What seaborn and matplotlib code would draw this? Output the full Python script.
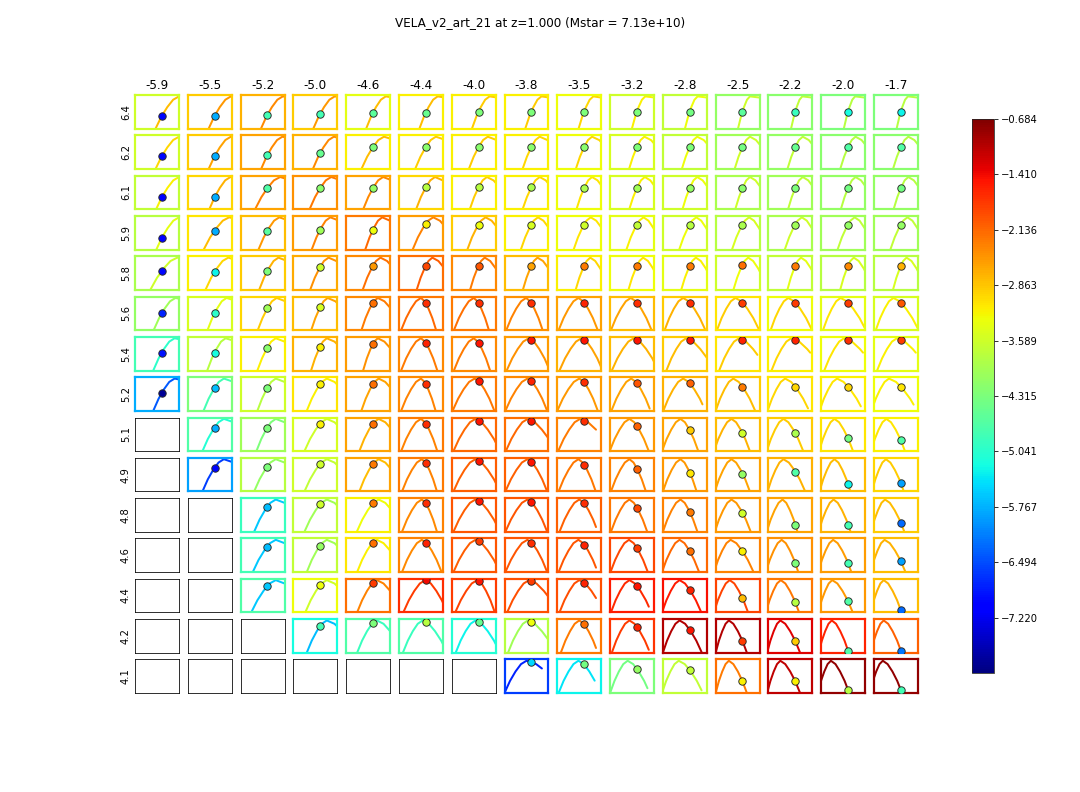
import numpy as np
import matplotlib
matplotlib.use("Agg")
import matplotlib.pyplot as plt
from matplotlib import colors, ticker
import seaborn as sns

nan = np.nan

# grid labels
col_labels = ['-5.9', '-5.5', '-5.2', '-5.0', '-4.6', '-4.4', '-4.0', '-3.8',
              '-3.5', '-3.2', '-2.8', '-2.5', '-2.2', '-2.0', '-1.7']
row_labels = ['6.4', '6.2', '6.1', '5.9', '5.8', '5.6', '5.4', '5.2',
              '5.1', '4.9', '4.8', '4.6', '4.4', '4.2', '4.1']

# colour scale
vmin, vmax = -7.946, -0.684
cbar_ticks = [-0.684, -1.410, -2.136, -2.863, -3.589, -4.315, -5.041,
              -5.767, -6.494, -7.220]

# frame colour value of every panel (nan = empty panel)
spine_val = [
    [-3.6, -2.9, -2.7, -2.9, -3.4, -3.2, -3.2, -3.2, -3.3, -3.6, -3.7, -4.1, -4.2, -4.3, -4.3],
    [-3.6, -2.9, -2.6, -2.7, -3.2, -3.2, -3.2, -3.2, -3.3, -3.5, -3.7, -4.0, -4.1, -4.2, -4.2],
    [-3.7, -3.0, -2.6, -2.45, -2.6, -3.0, -3.2, -3.2, -3.3, -3.5, -3.6, -3.9, -4.0, -4.1, -4.1],
    [-3.8, -3.1, -2.8, -2.55, -2.3, -2.55, -2.9, -3.2, -3.3, -3.4, -3.6, -3.8, -3.9, -4.0, -4.0],
    [-3.9, -3.2, -2.9, -2.65, -2.4, -2.2, -2.4, -2.8, -3.2, -3.3, -3.4, -3.6, -3.7, -3.8, -3.8],
    [-4.1, -3.5, -3.0, -2.8, -2.4, -2.25, -2.3, -2.45, -2.6, -2.8, -2.9, -3.1, -3.3, -3.4, -3.5],
    [-4.8, -3.7, -3.2, -2.7, -2.55, -2.4, -2.4, -2.55, -2.7, -2.8, -2.9, -3.1, -3.2, -3.3, -3.4],
    [-5.8, -4.3, -3.6, -3.1, -2.6, -2.4, -2.3, -2.4, -2.55, -2.6, -2.7, -2.9, -3.1, -3.2, -3.3],
    [nan, -4.7, -4.0, -3.5, -2.6, -2.3, -2.15, -2.2, -2.35, -2.5, -2.6, -2.8, -2.9, -3.1, -3.2],
    [nan, -5.9, -3.8, -3.6, -2.6, -2.3, -2.05, -2.1, -2.25, -2.35, -2.5, -2.6, -2.7, -2.8, -3.0],
    [nan, nan, -4.9, -3.7, -3.2, -2.35, -2.0, -2.0, -2.1, -2.25, -2.35, -2.5, -2.6, -2.7, -2.9],
    [nan, nan, -4.8, -3.7, -3.1, -2.35, -2.0, -2.0, -2.0, -1.9, -2.15, -2.35, -2.45, -2.55, -2.8],
    [nan, nan, -4.7, -3.3, -2.2, -1.7, -1.8, -1.95, -1.95, -1.55, -1.45, -1.85, -2.25, -2.5, -2.8],
    [nan, nan, nan, -5.2, -4.7, -4.7, -5.1, -3.8, -2.25, -1.75, -1.0, -1.0, -1.3, -1.6, -2.1],
    [nan, nan, nan, nan, nan, nan, nan, -6.6, -5.3, -4.3, -3.7, -2.2, -1.1, -0.8, -0.8],
]

# curve colour value
line_val = [
    [-2.8, -2.5, -2.4, -2.5, -2.8, -2.8, -2.9, -2.9, -3.0, -3.2, -3.3, -3.6, -3.7, -3.8, -3.8],
    [-3.0, -2.6, -2.4, -2.4, -2.8, -2.9, -2.9, -3.0, -3.0, -3.2, -3.3, -3.6, -3.7, -3.8, -3.8],
    [-3.2, -2.7, -2.35, -2.25, -2.4, -2.7, -2.9, -3.0, -3.1, -3.2, -3.3, -3.6, -3.7, -3.8, -3.8],
    [-3.4, -2.8, -2.5, -2.35, -2.15, -2.35, -2.7, -3.0, -3.1, -3.2, -3.3, -3.5, -3.6, -3.7, -3.7],
    [-3.6, -3.0, -2.7, -2.45, -2.2, -2.05, -2.3, -2.6, -3.0, -3.1, -3.2, -3.3, -3.4, -3.5, -3.5],
    [-4.0, -3.4, -2.9, -2.6, -2.3, -2.15, -2.2, -2.35, -2.5, -2.6, -2.7, -2.9, -3.0, -3.1, -3.2],
    [-5.0, -3.8, -3.2, -2.7, -2.45, -2.3, -2.3, -2.45, -2.6, -2.7, -2.8, -2.9, -3.0, -3.1, -3.2],
    [-6.4, -4.8, -3.8, -3.2, -2.6, -2.35, -2.25, -2.35, -2.5, -2.6, -2.7, -2.8, -3.0, -3.1, -3.2],
    [nan, -5.1, -4.3, -3.6, -2.7, -2.35, -2.15, -2.15, -2.3, -2.5, -2.6, -2.7, -2.9, -3.0, -3.1],
    [nan, -6.6, -4.1, -3.7, -2.8, -2.35, -2.1, -2.1, -2.25, -2.35, -2.5, -2.6, -2.7, -2.8, -2.9],
    [nan, nan, -5.6, -4.0, -3.3, -2.4, -2.05, -2.0, -2.1, -2.25, -2.35, -2.5, -2.6, -2.7, -2.8],
    [nan, nan, -5.6, -4.0, -3.2, -2.4, -2.05, -2.0, -2.0, -1.9, -2.15, -2.35, -2.45, -2.55, -2.7],
    [nan, nan, -5.6, -3.6, -2.35, -1.8, -1.85, -1.95, -1.95, -1.65, -1.55, -1.85, -2.25, -2.5, -2.7],
    [nan, nan, nan, -5.7, -4.9, -4.9, -5.3, -4.0, -2.3, -1.8, -1.0, -1.0, -1.3, -1.6, -2.1],
    [nan, nan, nan, nan, nan, nan, nan, -6.8, -5.4, -4.4, -3.7, -2.3, -1.1, -0.8, -0.8],
]

# marker colour value
point_val = [
    [-7.0, -5.8, -4.8, -4.8, -4.6, -4.5, -4.3, -4.3, -4.3, -4.3, -4.4, -4.6, -4.9, -5.2, -5.3],
    [-7.0, -5.8, -4.8, -4.5, -4.3, -4.2, -4.2, -4.2, -4.2, -4.3, -4.3, -4.4, -4.5, -4.7, -4.7],
    [-7.1, -5.8, -4.7, -4.2, -4.1, -3.8, -3.8, -3.9, -3.9, -4.0, -4.1, -4.2, -4.3, -4.4, -4.4],
    [-7.1, -5.8, -4.6, -4.0, -3.3, -3.2, -3.3, -3.5, -3.6, -3.7, -3.8, -3.9, -4.0, -4.1, -4.1],
    [-7.0, -5.3, -4.3, -3.6, -2.5, -1.9, -2.0, -2.6, -2.3, -2.3, -2.3, -2.2, -2.3, -2.4, -2.7],
    [-6.8, -5.0, -4.0, -3.5, -2.2, -1.7, -1.7, -1.7, -1.6, -1.7, -1.7, -1.8, -1.8, -1.8, -2.0],
    [-6.9, -5.2, -4.2, -3.2, -2.2, -1.6, -1.5, -1.5, -1.5, -1.5, -1.5, -1.6, -1.6, -1.7, -1.8],
    [-7.8, -5.7, -4.3, -3.2, -2.2, -1.7, -1.5, -1.6, -1.7, -2.0, -2.1, -2.3, -3.0, -3.0, -3.1],
    [nan, -5.8, -4.3, -3.2, -2.2, -1.7, -1.5, -1.5, -1.7, -2.1, -2.9, -3.6, -3.9, -4.4, -4.7],
    [nan, -7.0, -4.3, -3.6, -2.3, -1.7, -1.5, -1.5, -1.7, -2.1, -3.1, -4.1, -4.7, -5.3, -5.9],
    [nan, nan, -5.7, -3.6, -2.3, -1.7, -1.5, -1.5, -1.7, -1.9, -2.3, -3.6, -4.3, -4.8, -6.3],
    [nan, nan, -5.7, -4.1, -2.2, -1.6, -1.8, -1.7, -1.6, -1.8, -2.2, -3.2, -4.3, -4.8, -5.9],
    [nan, nan, -5.6, -3.3, -1.8, -1.4, -1.5, -1.8, -1.6, -1.5, -1.6, -2.8, -3.8, -4.7, -6.3],
    [nan, nan, nan, -4.8, -4.3, -3.8, -4.5, -3.3, -2.2, -1.6, -1.5, -1.8, -2.9, -4.7, -6.2],
    [nan, nan, nan, nan, nan, nan, nan, -5.5, -4.4, -4.1, -3.7, -3.2, -3.2, -3.8, -4.8],
]

# marker height inside its panel (0 = bottom, 1 = top); marker sits at x = 0.61
point_x = 0.61
point_y = [
    [0.38, 0.38, 0.41, 0.44, 0.47, 0.47, 0.50, 0.50, 0.50, 0.50, 0.50, 0.50, 0.50, 0.50, 0.50],
    [0.38, 0.38, 0.41, 0.47, 0.65, 0.65, 0.65, 0.65, 0.65, 0.65, 0.65, 0.65, 0.65, 0.65, 0.65],
    [0.36, 0.36, 0.63, 0.63, 0.63, 0.65, 0.65, 0.65, 0.63, 0.63, 0.63, 0.63, 0.63, 0.63, 0.63],
    [0.35, 0.56, 0.56, 0.59, 0.59, 0.76, 0.74, 0.74, 0.74, 0.74, 0.74, 0.74, 0.74, 0.74, 0.74],
    [0.56, 0.53, 0.56, 0.68, 0.71, 0.71, 0.71, 0.71, 0.71, 0.71, 0.71, 0.74, 0.71, 0.71, 0.71],
    [0.50, 0.50, 0.65, 0.68, 0.82, 0.80, 0.80, 0.80, 0.82, 0.82, 0.82, 0.82, 0.82, 0.82, 0.82],
    [0.53, 0.53, 0.68, 0.71, 0.79, 0.82, 0.82, 0.91, 0.91, 0.91, 0.91, 0.91, 0.91, 0.91, 0.91],
    [0.53, 0.68, 0.68, 0.79, 0.79, 0.79, 0.88, 0.88, 0.85, 0.82, 0.82, 0.71, 0.71, 0.71, 0.71],
    [nan, 0.70, 0.70, 0.82, 0.82, 0.82, 0.91, 0.91, 0.91, 0.74, 0.62, 0.53, 0.53, 0.38, 0.32],
    [nan, 0.70, 0.74, 0.82, 0.82, 0.85, 0.91, 0.88, 0.79, 0.68, 0.56, 0.53, 0.59, 0.21, 0.24],
    [nan, nan, 0.74, 0.82, 0.85, 0.85, 0.91, 0.88, 0.85, 0.71, 0.59, 0.56, 0.21, 0.21, 0.26],
    [nan, nan, 0.76, 0.79, 0.88, 0.88, 0.91, 0.88, 0.82, 0.71, 0.62, 0.62, 0.26, 0.26, 0.32],
    [nan, nan, 0.78, 0.81, 0.88, 0.94, 0.94, 0.94, 0.88, 0.78, 0.67, 0.42, 0.30, 0.33, 0.06],
    [nan, nan, nan, 0.79, 0.88, 0.91, 0.91, 0.91, 0.85, 0.76, 0.68, 0.35, 0.35, 0.06, 0.06],
    [nan, nan, nan, nan, nan, nan, nan, 0.91, 0.85, 0.71, 0.68, 0.35, 0.35, 0.09, 0.09],
]

# where each curve peaks (panel x)
peak_x = [
    [1.00, 0.98, 0.96, 0.94, 0.90, 0.88, 0.86, 0.84, 0.82, 0.80, 0.79, 0.78, 0.77, 0.77, 0.77],
    [1.00, 0.98, 0.95, 0.92, 0.86, 0.84, 0.82, 0.80, 0.79, 0.78, 0.78, 0.78, 0.78, 0.78, 0.78],
    [1.00, 0.97, 0.90, 0.86, 0.84, 0.82, 0.80, 0.80, 0.79, 0.79, 0.78, 0.78, 0.78, 0.78, 0.78],
    [1.00, 0.94, 0.88, 0.84, 0.82, 0.78, 0.77, 0.76, 0.76, 0.76, 0.76, 0.76, 0.76, 0.76, 0.76],
    [0.96, 0.92, 0.86, 0.80, 0.78, 0.76, 0.75, 0.75, 0.75, 0.75, 0.75, 0.74, 0.74, 0.74, 0.74],
    [0.92, 0.88, 0.82, 0.78, 0.72, 0.50, 0.50, 0.49, 0.48, 0.47, 0.46, 0.45, 0.45, 0.44, 0.44],
    [0.90, 0.86, 0.80, 0.76, 0.72, 0.50, 0.50, 0.55, 0.55, 0.54, 0.53, 0.53, 0.52, 0.52, 0.52],
    [0.90, 0.82, 0.80, 0.76, 0.74, 0.50, 0.52, 0.52, 0.50, 0.48, 0.46, 0.40, 0.38, 0.36, 0.34],
    [nan, 0.82, 0.80, 0.76, 0.74, 0.50, 0.54, 0.53, 0.52, 0.44, 0.40, 0.36, 0.34, 0.30, 0.28],
    [nan, 0.82, 0.80, 0.76, 0.74, 0.52, 0.54, 0.52, 0.48, 0.44, 0.40, 0.36, 0.34, 0.30, 0.27],
    [nan, nan, 0.80, 0.76, 0.74, 0.52, 0.54, 0.52, 0.50, 0.44, 0.40, 0.36, 0.32, 0.28, 0.25],
    [nan, nan, 0.80, 0.76, 0.70, 0.52, 0.54, 0.52, 0.48, 0.43, 0.38, 0.34, 0.30, 0.27, 0.24],
    [nan, nan, 0.80, 0.76, 0.70, 0.60, 0.58, 0.56, 0.50, 0.44, 0.38, 0.32, 0.28, 0.25, 0.22],
    [nan, nan, nan, 0.76, 0.70, 0.54, 0.54, 0.53, 0.50, 0.44, 0.38, 0.30, 0.27, 0.24, 0.22],
    [nan, nan, nan, nan, nan, nan, nan, 0.50, 0.48, 0.40, 0.36, 0.30, 0.27, 0.22, 0.20],
]

# width of the flank that does not hold the marker
width2 = [
    [2.0, 2.0, 2.0, 2.0, 2.0, 2.0, 2.0, 2.0, 2.0, 2.5, 2.5, 2.5, 2.5, 2.5, 2.5],
    [2.0, 2.0, 1.5, 1.2, 1.0, 0.9, 0.8, 0.7, 0.65, 0.6, 0.6, 0.55, 0.55, 0.55, 0.55],
    [2.0, 1.5, 1.0, 0.9, 0.8, 0.7, 0.6, 0.55, 0.5, 0.5, 0.5, 0.5, 0.5, 0.5, 0.5],
    [2.0, 1.2, 0.9, 0.8, 0.7, 0.6, 0.55, 0.5, 0.5, 0.45, 0.45, 0.45, 0.45, 0.45, 0.45],
    [1.5, 1.0, 0.8, 0.7, 0.6, 0.55, 0.5, 0.5, 0.45, 0.45, 0.45, 0.45, 0.45, 0.45, 0.45],
    [1.5, 1.0, 0.8, 0.7, 0.6, 0.45, 0.45, 0.45, 0.45, 0.45, 0.42, 0.42, 0.4, 0.4, 0.4],
    [1.5, 1.0, 0.8, 0.7, 0.6, 0.45, 0.45, 0.5, 0.5, 0.5, 0.45, 0.45, 0.45, 0.45, 0.45],
    [1.5, 0.9, 0.8, 0.7, 0.6, 0.45, 0.5, 0.5, 0.5, 0.45, 0.45, 0.4, 0.4, 0.4, 0.4],
    [nan, 0.9, 0.8, 0.7, 0.6, 0.45, 0.5, 0.5, 0.5, 0.45, 0.42, 0.4, 0.38, 0.35, 0.35],
    [nan, 0.9, 0.8, 0.7, 0.6, 0.45, 0.5, 0.5, 0.45, 0.42, 0.4, 0.38, 0.36, 0.34, 0.32],
    [nan, nan, 0.8, 0.7, 0.6, 0.45, 0.5, 0.5, 0.45, 0.42, 0.4, 0.38, 0.36, 0.34, 0.32],
    [nan, nan, 0.8, 0.7, 0.6, 0.45, 0.5, 0.5, 0.45, 0.42, 0.4, 0.38, 0.36, 0.34, 0.32],
    [nan, nan, 0.8, 0.7, 0.6, 0.5, 0.5, 0.5, 0.45, 0.42, 0.4, 0.36, 0.34, 0.32, 0.3],
    [nan, nan, nan, 0.7, 0.6, 0.45, 0.45, 0.45, 0.42, 0.4, 0.38, 0.3, 0.3, 0.3, 0.3],
    [nan, nan, nan, nan, nan, nan, nan, 0.5, 0.45, 0.4, 0.38, 0.3, 0.3, 0.3, 0.3],
]

# last x reached by each curve
x_end = [
    [1.0, 1.0, 1.0, 1.0, 1.0, 1.0, 1.0, 1.0, 1.0, 1.0, 1.0, 1.0, 1.0, 1.0, 1.0],
    [1.0, 1.0, 1.0, 1.0, 1.0, 1.0, 1.0, 1.0, 1.0, 1.0, 1.0, 1.0, 1.0, 1.0, 1.0],
    [1.0, 1.0, 1.0, 1.0, 1.0, 1.0, 1.0, 1.0, 1.0, 1.0, 1.0, 1.0, 1.0, 1.0, 1.0],
    [1.0, 1.0, 1.0, 1.0, 1.0, 1.0, 1.0, 1.0, 1.0, 1.0, 1.0, 1.0, 1.0, 1.0, 1.0],
    [1.0, 1.0, 1.0, 1.0, 1.0, 1.0, 1.0, 1.0, 1.0, 1.0, 1.0, 1.0, 1.0, 1.0, 1.0],
    [1.0, 1.0, 1.0, 1.0, 1.0, 1.0, 1.0, 1.0, 1.0, 1.0, 1.0, 1.0, 1.0, 1.0, 1.0],
    [1.0, 1.0, 1.0, 1.0, 1.0, 1.0, 1.0, 1.0, 1.0, 1.0, 1.0, 0.95, 0.95, 0.95, 0.95],
    [1.0, 1.0, 1.0, 1.0, 1.0, 1.0, 1.0, 1.0, 1.0, 0.9, 0.9, 0.9, 0.9, 0.9, 0.9],
    [1.0, 1.0, 1.0, 1.0, 1.0, 1.0, 1.0, 1.0, 0.88, 0.88, 0.88, 0.88, 0.88, 0.88, 0.88],
    [1.0, 1.0, 1.0, 1.0, 1.0, 1.0, 1.0, 1.0, 0.88, 0.88, 0.88, 0.88, 0.88, 0.88, 0.88],
    [1.0, 1.0, 1.0, 1.0, 1.0, 1.0, 1.0, 1.0, 0.88, 0.88, 0.88, 0.88, 0.88, 0.88, 0.88],
    [1.0, 1.0, 1.0, 1.0, 1.0, 1.0, 1.0, 1.0, 0.88, 0.88, 0.88, 0.88, 0.88, 0.88, 0.88],
    [1.0, 1.0, 1.0, 1.0, 1.0, 1.0, 1.0, 1.0, 0.88, 0.88, 0.88, 0.88, 0.88, 0.88, 0.88],
    [1.0, 1.0, 1.0, 1.0, 1.0, 1.0, 1.0, 1.0, 0.88, 0.88, 0.88, 0.88, 0.88, 0.88, 0.88],
    [1.0, 1.0, 1.0, 1.0, 1.0, 1.0, 1.0, 0.85, 0.85, 0.85, 0.88, 0.88, 0.88, 0.88, 0.88],
]

# shape of one hump (u = offset from peak / flank width)
rise_u = [-1.4, -1.0, -0.75, -0.5, -0.25, 0.0]
rise_y = [-0.45, 0.0, 0.36, 0.64, 0.86, 0.96]
fall_u = [0.0, 0.25, 0.5, 0.75, 1.0, 1.4]
fall_y = [0.96, 0.86, 0.64, 0.36, 0.0, -0.5]


def panel_curve(i, j):
    xp, yp, w2 = peak_x[i][j], min(point_y[i][j], 0.93), width2[i][j]
    if abs(point_x - xp) < 0.03:
        wr = wf = w2
    elif xp > point_x:
        # marker on the rising flank
        u = np.interp(yp, rise_y, rise_u)
        wr, wf = (point_x - xp) / u, w2
    else:
        u = np.interp(yp, fall_y[::-1], fall_u[::-1])
        wr, wf = w2, (point_x - xp) / u
    xs = np.r_[xp + np.array(rise_u) * wr, xp + np.array(fall_u[1:]) * wf]
    ys = np.r_[rise_y, fall_y[1:]]
    xe = x_end[i][j]
    keep = xs < xe
    ye = np.interp(xe, xs, ys)
    return np.r_[xs[keep], xe], np.r_[ys[keep], ye]


sns.set_style("white")
plt.rcParams['font.family'] = ['DejaVu Sans']
plt.rcParams['text.color'] = 'black'
plt.rcParams['axes.labelcolor'] = 'black'
plt.rcParams['xtick.color'] = 'black'
plt.rcParams['ytick.color'] = 'black'

cmap = plt.get_cmap('jet')
norm = colors.Normalize(vmin=vmin, vmax=vmax)

fig = plt.figure(figsize=(15, 11), dpi=72)
gs = fig.add_gridspec(15, 15, left=0.125, right=0.85, bottom=0.125, top=0.88,
                      wspace=0.2, hspace=0.2)

for i in range(15):
    for j in range(15):
        ax = fig.add_subplot(gs[i, j])
        sv = spine_val[i][j]
        if np.isnan(sv):
            for s in ax.spines.values():
                s.set_color('black')
                s.set_linewidth(0.8)
        else:
            xs, ys = panel_curve(i, j)
            sns.lineplot(x=xs, y=ys, ax=ax, color=cmap(norm(line_val[i][j])),
                         lw=2, sort=False, estimator=None)
            yv = np.interp(point_x, xs, ys)
            sns.scatterplot(x=[point_x], y=[yv], ax=ax, s=55,
                            color=cmap(norm(point_val[i][j])),
                            edgecolor='0.15', linewidth=0.9, zorder=5)
            for s in ax.spines.values():
                s.set_color(cmap(norm(sv)))
                s.set_linewidth(2.2)
        ax.set_xlim(0, 1)
        ax.set_ylim(0, 1)
        ax.set_xticks([])
        ax.set_yticks([])
        ax.set_xlabel('')
        ax.set_ylabel('')
        if i == 0:
            ax.set_title(col_labels[j], fontsize=12)
        if j == 0:
            ax.set_ylabel(row_labels[i], fontsize=10)

fig.suptitle('VELA_v2_art_21 at z=1.000 (Mstar = 7.13e+10)', fontsize=12, y=0.98)

cax = fig.add_axes([0.9, 0.15, 0.02, 0.7])
sm = plt.cm.ScalarMappable(norm=norm, cmap=cmap)
fmt = ticker.FuncFormatter(lambda v, pos: ('%.3f' % v).replace('-', '\u2212'))
cb = fig.colorbar(sm, cax=cax, ticks=cbar_ticks, format=fmt)
cb.ax.tick_params(labelsize=10, length=4)
cb.outline.set_linewidth(0.8)

fig.savefig('out.png', dpi=72)
